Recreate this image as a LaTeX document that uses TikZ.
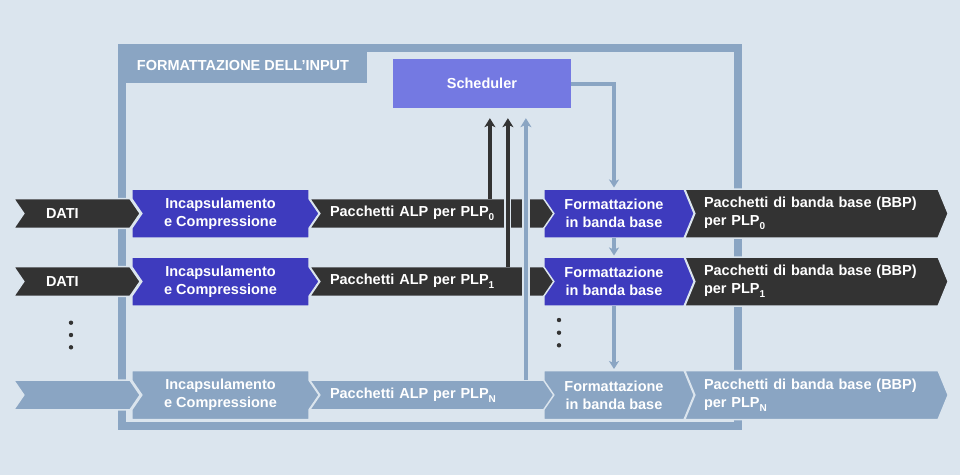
\documentclass[tikz,border=0pt]{standalone}
\usepackage{fontspec}
\setmainfont{Liberation Sans}
\usetikzlibrary{arrows.meta,calc}

\definecolor{bgc}{HTML}{DBE5EE}
\definecolor{framec}{HTML}{8AA5C3}
\definecolor{darkc}{HTML}{333333}
\definecolor{bluec}{HTML}{3E3BBE}
\definecolor{schedc}{HTML}{7479E2}

\pgfdeclarelayer{frame}
\pgfdeclarelayer{shapes}
\pgfsetlayers{frame,shapes,main}

% subscript after PLP
\newcommand{\plpsub}[1]{\raisebox{-4pt}{\fontsize{10}{10}\selectfont #1}}

% arrow shaped body around a named node: notch half height, tip half height, colour
\newcommand{\arrowbox}[4]{%
  \path[fill=#4, draw=bgc, line width=1.5pt]
    (#1.north west) -- (#1.north east) -- ([yshift=#3pt]#1.east)
    -- ([xshift=10pt]#1.east) -- ([yshift=-#3pt]#1.east)
    -- (#1.south east) -- (#1.south west) -- ([yshift=-#2pt]#1.west)
    -- ([xshift=10pt]#1.west) -- ([yshift=#2pt]#1.west) -- cycle;}

\tikzset{
  lbl/.style={font=\fontsize{14.5}{17.7}\selectfont\bfseries, text=white, inner sep=0pt},
  band/.style={lbl, minimum height=29.3pt},
  tall/.style={lbl, minimum height=48.6pt, align=center},
  datibox/.style={band, text width=52pt, inner xsep=32pt, align=left},
  incbox/.style={tall, minimum width=177pt},
  alpbox/.style={band, text width=195pt, inner xsep=20pt, align=left},
  formbox/.style={tall, minimum width=140pt},
  bbpbox/.style={tall, text width=215pt, inner xsep=19pt, align=left},
  darkup/.style={darkc, line width=3.5pt, -{Stealth[length=9pt,width=11pt,inset=2.5pt]},
    preaction={draw=bgc, line width=7pt, -}},
  blueup/.style={framec, line width=4pt, -{Stealth[length=9pt,width=11pt,inset=2.5pt]},
    preaction={draw=bgc, line width=8.5pt, -}},
  bluearrow/.style={framec, line width=4pt, -{Stealth[length=8pt,width=10pt,inset=2pt]},
    shorten >=1.5pt},
}

\begin{document}
\begin{tikzpicture}[x=1pt, y=-1pt]
  \useasboundingbox (0,0) rectangle (960,475);
  \begin{pgfonlayer}{frame}
    \fill[bgc] (0,0) rectangle (960,475);
    \draw[framec, line width=7.6pt] (121.9,47.8) rectangle (737.9,426);
    \fill[framec] (118,44) rectangle (366.7,83.3);
  \end{pgfonlayer}
  \node[lbl, anchor=base west] (title) at (136.7,70.7) {FORMATTAZIONE DELL’INPUT};

  \node[lbl, fill=schedc, minimum width=177.7pt, minimum height=48.4pt] (sched)
    at (481.9,83.5) {Scheduler};

  % PLP0
  \node[datibox] (dati0) at (72,213.5) {DATI};
  \node[incbox] (inc0) at (220.5,213.5) {Incapsulamento\\e Compressione};
  \node[alpbox] (alp0) at (427.5,213.5) {Pacchetti ALP per PLP\plpsub{0}};
  \node[formbox] (form0) at (614,213.5) {Formattazione\\in banda base};
  \node[bbpbox] (bbp0) at (811.5,213.5) {Pacchetti di banda base (BBP)\\per PLP\plpsub{0}};

  % PLP1
  \node[datibox] (dati1) at (72,281.5) {DATI};
  \node[incbox] (inc1) at (220.5,281.5) {Incapsulamento\\e Compressione};
  \node[alpbox] (alp1) at (427.5,281.5) {Pacchetti ALP per PLP\plpsub{1}};
  \node[formbox] (form1) at (614,281.5) {Formattazione\\in banda base};
  \node[bbpbox] (bbp1) at (811.5,281.5) {Pacchetti di banda base (BBP)\\per PLP\plpsub{1}};

  % PLPN
  \node[datibox] (datiN) at (72,395) {};
  \node[incbox] (incN) at (220.5,395) {Incapsulamento\\e Compressione};
  \node[alpbox] (alpN) at (427.5,395) {Pacchetti ALP per PLP\plpsub{N}};
  \node[formbox] (formN) at (614,395) {Formattazione\\in banda base};
  \node[bbpbox] (bbpN) at (811.5,395) {Pacchetti di banda base (BBP)\\per PLP\plpsub{N}};

  \begin{pgfonlayer}{shapes}
    \arrowbox{dati0}{14.6}{14.6}{darkc}
    \arrowbox{inc0}{14.6}{14.6}{bluec}
    \arrowbox{alp0}{14.6}{14.6}{darkc}
    \arrowbox{form0}{14.6}{24.3}{bluec}
    \arrowbox{bbp0}{24.3}{24.3}{darkc}
    \arrowbox{dati1}{14.6}{14.6}{darkc}
    \arrowbox{inc1}{14.6}{14.6}{bluec}
    \arrowbox{alp1}{14.6}{14.6}{darkc}
    \arrowbox{form1}{14.6}{24.3}{bluec}
    \arrowbox{bbp1}{24.3}{24.3}{darkc}
    \arrowbox{datiN}{14.6}{14.6}{framec}
    \arrowbox{incN}{14.6}{14.6}{framec}
    \arrowbox{alpN}{14.6}{14.6}{framec}
    \arrowbox{formN}{14.6}{24.3}{framec}
    \arrowbox{bbpN}{24.3}{24.3}{framec}
  \end{pgfonlayer}

  % to and from the scheduler
  \draw[darkup] ($(sched.south |- alp0.north)+(8,0)$) -- ($(sched.south)+(8,10.3)$);
  \draw[darkup] ($(sched.south |- alp1.north)+(26,0)$) -- ($(sched.south)+(26,10.3)$);
  \draw[blueup] ($(sched.south |- alpN.north)+(44,0)$) -- ($(sched.south)+(44,10.3)$);
  \draw[bluearrow] (sched.east) -| (form0.north);
  \draw[bluearrow] (form0.south) -- (form1.north);
  \draw[bluearrow] (form1.south) -- (formN.north);

  \foreach \y in {322.7,335,347.3} \fill[darkc] (71,\y) circle (2.2pt);
  \foreach \y in {320,332.7,345.3} \fill[darkc] (559,\y) circle (2.2pt);
\end{tikzpicture}
\end{document}
